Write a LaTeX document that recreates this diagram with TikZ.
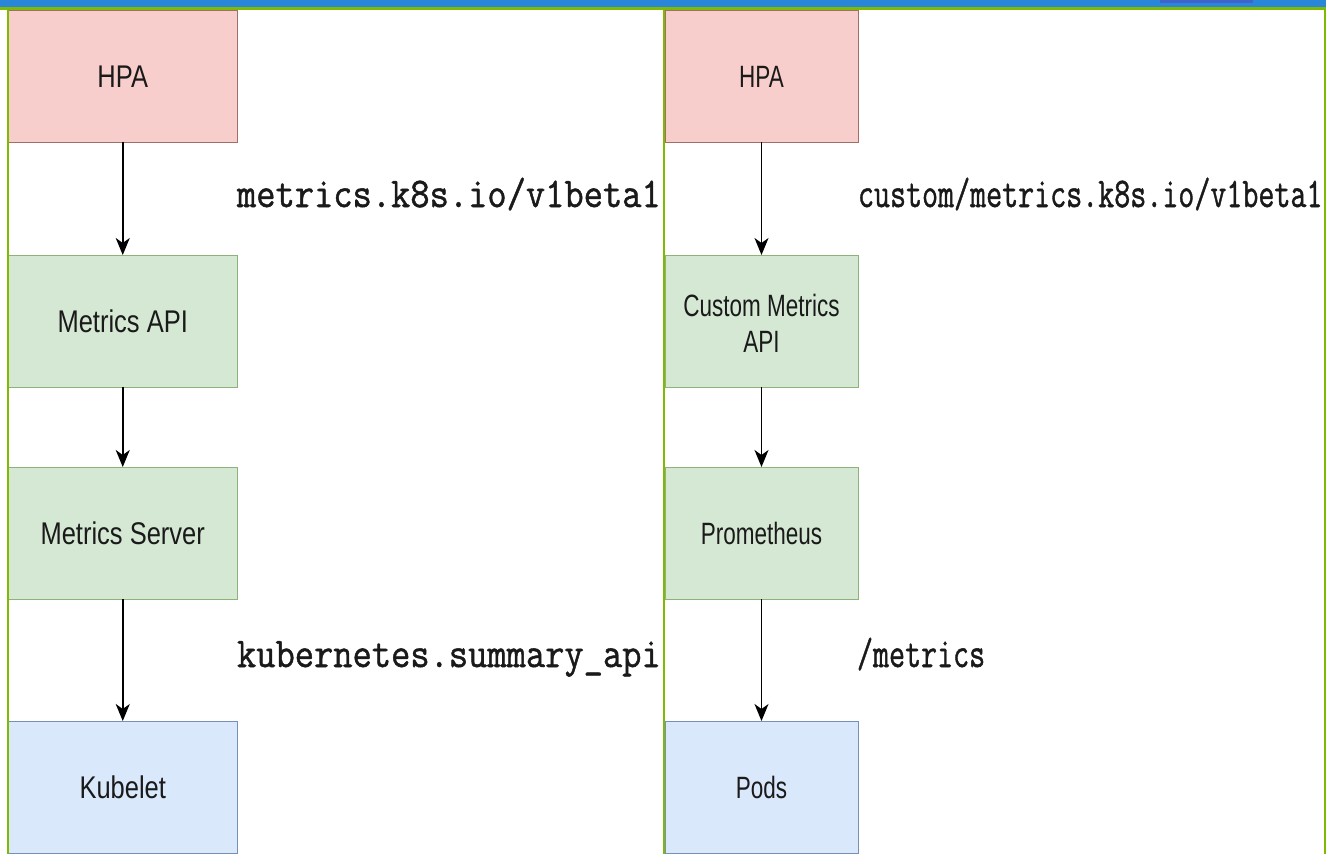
\documentclass[tikz,border=0pt]{standalone}
\usepackage{fontspec}
\setmainfont{Liberation Sans}
\newfontfamily\monofont[FakeBold=1.2]{Latin Modern Mono}
\usetikzlibrary{arrows.meta}
\definecolor{barblue}{HTML}{2A86D8}
\definecolor{tabblue}{HTML}{3F63C8}
\definecolor{framegreen}{HTML}{7FBA00}
\definecolor{redfill}{HTML}{F8CECC}
\definecolor{reddraw}{HTML}{A07068}
\definecolor{greenfill}{HTML}{D5E8D4}
\definecolor{greendraw}{HTML}{8DB27A}
\definecolor{bluefill}{HTML}{DAE8FC}
\definecolor{bluedraw}{HTML}{7890B8}
\definecolor{txtdark}{HTML}{1A1A1A}
\newcommand{\ltxt}[1]{\raisebox{-11.5pt}[0pt][0pt]{\scalebox{1}[1.23]{\fontsize{25.5}{30}\selectfont #1}}}
\newcommand{\rtxt}[1]{\raisebox{-11.5pt}[0pt][0pt]{\scalebox{1}[1.37]{\fontsize{22.5}{26.3}\selectfont #1}}}
\newcommand{\rtxtii}[1]{\raisebox{-13pt}[0pt][0pt]{\scalebox{1}[1.37]{\fontsize{22.5}{26.3}\selectfont\begin{tabular}{@{}c@{}}#1\end{tabular}}}}
\newcommand{\lmono}[1]{\scalebox{1}[1.13]{\fontsize{37.4}{40}\monofont #1}}
\newcommand{\rmono}[1]{\scalebox{1}[1.36]{\fontsize{31.1}{34}\monofont #1}}
\tikzset{
  boxbase/.style={rectangle, inner sep=0pt, outer sep=0pt, line width=1pt, anchor=north west, minimum height=132pt, text=txtdark},
  lbox/.style={boxbase, minimum width=228.5pt},
  rbox/.style={boxbase, minimum width=193pt},
  redbox/.style={fill=redfill, draw=reddraw},
  greenbox/.style={fill=greenfill, draw=greendraw},
  bluebox/.style={fill=bluefill, draw=bluedraw},
  arr/.style={line width=1.5pt, -{Stealth[length=17pt,width=14pt,inset=5pt]}},
  lbl/.style={anchor=base west, inner sep=0pt, outer sep=0pt, text=txtdark},
  frame/.style={draw=framegreen, line width=2.5pt}
}
\begin{document}
\begin{tikzpicture}[x=1pt,y=-1pt]
\useasboundingbox (0,0) rectangle (1326,854);
\clip (0,0) rectangle (1326,854);
\fill[white] (0,0) rectangle (1326,854);
% boxes
\node[lbox, redbox] (hpaL) at (8.5,10) {\ltxt{HPA}};
\node[lbox, greenbox] (apiL) at (8.5,255) {\ltxt{Metrics API}};
\node[lbox, greenbox] (srvL) at (8.5,467) {\ltxt{Metrics Server}};
\node[lbox, bluebox] (kubL) at (8.5,721) {\ltxt{Kubelet}};
\node[rbox, redbox] (hpaR) at (665,10) {\rtxt{HPA}};
\node[rbox, greenbox] (apiR) at (665,255) {\rtxtii{Custom Metrics\\API}};
\node[rbox, greenbox] (proR) at (665,467) {\rtxt{Prometheus}};
\node[rbox, bluebox] (podR) at (665,721) {\rtxt{Pods}};
% arrows
\draw[arr] (hpaL.south) -- (apiL.north);
\draw[arr] (apiL.south) -- (srvL.north);
\draw[arr] (srvL.south) -- (kubL.north);
\draw[arr] (hpaR.south) -- (apiR.north);
\draw[arr] (apiR.south) -- (proR.north);
\draw[arr] (proR.south) -- (podR.north);
% labels
\node[lbl] (l1) at (237,207) {\lmono{metrics.k8s.io/v1beta1}};
\node[lbl] (l2) at (237,667) {\lmono{kubernetes.summary\_api}};
\node[lbl] (r1) at (858,207) {\rmono{custom/metrics.k8s.io/v1beta1}};
\node[lbl] (r2) at (857,667) {\rmono{/metrics}};
% frame
\fill[barblue] (0,0) rectangle (1326,7.5);
\fill[tabblue] (1160,0) rectangle (1253,2.5);
\draw[frame] (0,8.5) -- (1326,8.5);
\draw[frame] (8,8.5) -- (8,854);
\draw[frame] (664,8.5) -- (664,854);
\draw[frame] (1325,8.5) -- (1325,854);
\end{tikzpicture}
\end{document}
